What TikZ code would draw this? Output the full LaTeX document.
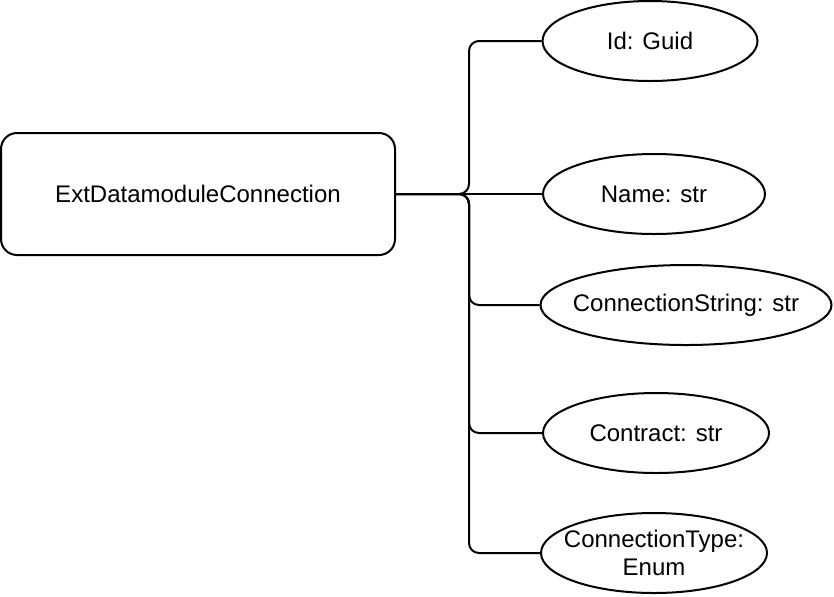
\documentclass[tikz,border=0pt]{standalone}
\usepackage{fontspec}
\setmainfont{Liberation Sans}
\usepackage{tikz}
\usetikzlibrary{shapes,positioning}
\tikzstyle{entity} = [draw, line width=1pt, rounded corners=8pt, minimum width=197pt, minimum height=61pt, inner sep=0pt, font=\fontsize{12pt}{14.4pt}\selectfont]
\tikzstyle{attr} = [draw, ellipse, line width=1pt, minimum height=40pt, inner sep=0pt, inner xsep=-6pt, align=center, font=\fontsize{12pt}{14.4pt}\selectfont]
\tikzstyle{link} = [line width=1pt, rounded corners=5pt]

\begin{document}
\begin{tikzpicture}[x=1pt, y=-1pt]
\useasboundingbox (0,0) rectangle (417,298);
% Entity
\node[entity] (conn) at (99,97) {ExtDatamoduleConnection};
\coordinate (bus) at (234.5,97);

% Attributes
\node[attr, minimum width=107.5pt] (id) at (325,20.5) {Id: Guid};
\node[attr, minimum width=111pt] (name) at (327,97) {Name: str};
\node[attr, minimum width=145.5pt] (cstr) at (343,152.5) {ConnectionString: str};
\node[attr, minimum width=113pt] (contract) at (328,216.5) {Contract: str};
\node[attr, minimum width=113pt] (ctype) at (327,276.5) {ConnectionType:\\Enum};

% Links
\draw[link] (conn.east) -- (bus) |- (id.west);
\draw[link] (conn.east) -- (name.west);
\draw[link] (conn.east) -- (bus) |- (cstr.west);
\draw[link] (conn.east) -- (bus) |- (contract.west);
\draw[link] (conn.east) -- (bus) |- (ctype.west);
\end{tikzpicture}
\end{document}
